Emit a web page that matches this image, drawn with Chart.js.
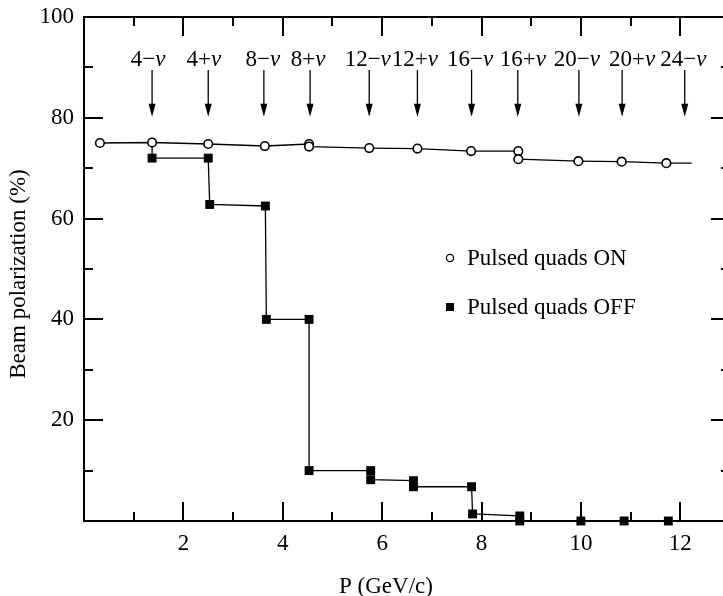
<!DOCTYPE html>
<html><head><meta charset="utf-8">
<script src="https://cdn.jsdelivr.net/npm/chart.js@4/dist/chart.umd.min.js"></script>
<style>html,body{margin:0;padding:0;overflow:hidden;background:#fff}canvas{display:block}</style>
</head><body>
<canvas id="c" width="723" height="596" style="width:723px;height:596px"></canvas>
<script>
// ---- data ----
const onP   = [0.32, 1.37, 2.50, 3.64, 4.53, 4.53, 5.74, 6.71, 7.79, 8.74, 8.74, 9.95, 10.82, 11.72, 12.23];
const onPol = [75.0, 75.1, 74.8, 74.4, 74.8, 74.3, 74.0, 73.9, 73.4, 73.4, 71.8, 71.4, 71.3, 71.0, 71.0];
const onMarker = [1,1,1,1,1,1,1,1,1,1,1,1,1,1,0];

const offP   = [1.37, 1.37, 2.50, 2.53, 3.65, 3.67, 4.53, 4.53, 5.77, 5.77, 6.63, 6.63, 7.80, 7.82, 8.77, 8.77, 10.00, 10.87, 11.76];
const offPol = [75.0, 72.0, 72.0, 62.8, 62.5, 40.0, 40.0, 10.0, 10.0, 8.2, 8.0, 6.8, 6.8, 1.4, 1.0, 0.0, 0.0, 0.0, 0.0];
const offMarker = [0,1,1,1,1,1,1,1,1,1,1,1,1,1,1,1,1,1,1];

const resonanceNames  = ['4', '4', '8', '8', '12', '12', '16', '16', '20', '20', '24'];
const resonanceSigns  = ['\u2212', '+', '\u2212', '+', '\u2212', '+', '\u2212', '+', '\u2212', '+', '\u2212'];
const resonanceP      = [1.37, 2.50, 3.62, 4.55, 5.74, 6.71, 7.80, 8.73, 9.96, 10.83, 12.09];
const resonanceLabelP = [1.29, 2.41, 3.60, 4.51, 5.71, 6.66, 7.77, 8.83, 9.92, 11.03, 12.06];

const xTickLabels = [2, 4, 6, 8, 10, 12];
const yTickLabels = [20, 40, 60, 80, 100];
const seriesNames = ['Pulsed quads ON', 'Pulsed quads OFF'];
const xTitle = 'P (GeV/c)';
const yTitle = 'Beam polarization (%)';
const xFrameEnd = 13;   // right-hand frame of the original plot (just outside the picture)

// ---- chart ----
const FONT = "'Liberation Serif', 'Times New Roman', serif";
const toXY = (xs, ys) => xs.map((x, i) => ({x: x, y: ys[i]}));

const decor = {
  id: 'decor',
  afterDraw(chart) {
    const ctx = chart.ctx, a = chart.chartArea;
    const xs = chart.scales.x, ys = chart.scales.y;
    const rightX = xs.getPixelForValue(xFrameEnd);
    ctx.save();
    ctx.strokeStyle = '#000';
    ctx.fillStyle = '#000';
    // top & right frame
    ctx.lineWidth = 2;
    ctx.beginPath();
    ctx.moveTo(a.left - 1, a.top); ctx.lineTo(rightX, a.top);
    ctx.moveTo(rightX, a.top); ctx.lineTo(rightX, a.bottom);
    ctx.stroke();
    // inward tick marks
    ctx.beginPath();
    for (let v = 1; v < xFrameEnd; v++) {
      const px = Math.round(xs.getPixelForValue(v));
      const len = (v % 2 === 0) ? 19 : 9;
      ctx.moveTo(px, a.bottom); ctx.lineTo(px, a.bottom - len);
      ctx.moveTo(px, a.top); ctx.lineTo(px, a.top + len);
    }
    ys.ticks.forEach(t => {
      const v = t.value;
      if (v <= ys.min || v >= ys.max) return;
      const py = Math.round(ys.getPixelForValue(v));
      const len = (Math.round(v) % 20 === 0) ? 19 : 9;
      ctx.moveTo(a.left, py); ctx.lineTo(a.left + len, py);
      ctx.moveTo(rightX, py); ctx.lineTo(rightX - len, py);
    });
    ctx.stroke();

    // resonance arrows and labels
    const yTop = ys.getPixelForValue(89.5), yTip = ys.getPixelForValue(80.2);
    const yLab = ys.getPixelForValue(91.4);
    ctx.lineWidth = 1.3;
    resonanceP.forEach((p, i) => {
      const px = xs.getPixelForValue(p);
      ctx.beginPath();
      ctx.moveTo(px, yTop); ctx.lineTo(px, yTip - 8);
      ctx.stroke();
      ctx.beginPath();
      ctx.moveTo(px, yTip); ctx.lineTo(px - 3.5, yTip - 13); ctx.lineTo(px + 3.5, yTip - 13);
      ctx.closePath(); ctx.fill();
      const a1 = resonanceNames[i] + resonanceSigns[i];
      ctx.font = '23px ' + FONT;
      const w1 = ctx.measureText(a1).width;
      ctx.font = 'italic 23px ' + FONT;
      const w2 = ctx.measureText('\u03bd').width;
      const lx = xs.getPixelForValue(resonanceLabelP[i]) - (w1 + w2) / 2;
      ctx.textBaseline = 'middle'; ctx.textAlign = 'left';
      ctx.font = '23px ' + FONT;
      ctx.fillText(a1, lx, yLab);
      ctx.font = 'italic 23px ' + FONT;
      ctx.fillText('\u03bd', lx + w1, yLab);
    });

    // legend
    ctx.font = '23px ' + FONT;
    ctx.textBaseline = 'middle'; ctx.textAlign = 'left';
    ctx.lineWidth = 1.3;
    ctx.beginPath(); ctx.arc(450, 258, 3.6, 0, Math.PI * 2);
    ctx.fillStyle = '#fff'; ctx.fill(); ctx.stroke();
    ctx.fillStyle = '#000';
    ctx.fillText(seriesNames[0], 467, 259);
    ctx.fillRect(446, 303, 8, 8);
    ctx.fillText(seriesNames[1], 467, 308);

    // axis titles
    ctx.textAlign = 'center';
    ctx.fillText(xTitle, 386, 587);
    ctx.save();
    ctx.translate(19, 274);
    ctx.rotate(-Math.PI / 2);
    ctx.fillText(yTitle, 0, 0);
    ctx.restore();
    ctx.restore();
  }
};

const zeroPad = s => { s.paddingTop = 0; s.paddingBottom = 0; s.paddingLeft = 0; s.paddingRight = 0; };

new Chart(document.getElementById('c'), {
  type: 'line',
  data: {
    datasets: [
      {
        label: seriesNames[0],
        data: toXY(onP, onPol),
        borderColor: '#000', borderWidth: 1.3,
        pointStyle: 'circle',
        pointRadius: onMarker.map(m => m ? 4.3 : 0),
        pointBorderWidth: 1.6, pointBorderColor: '#000', pointBackgroundColor: '#fff',
        tension: 0, clip: false, order: 0
      },
      {
        label: seriesNames[1],
        data: toXY(offP, offPol),
        borderColor: '#000', borderWidth: 1.3,
        pointStyle: 'rect',
        pointRadius: offMarker.map(m => m ? 6.3 : 0),
        pointBorderWidth: 0, pointBackgroundColor: '#000',
        tension: 0, clip: false, order: 1
      }
    ]
  },
  options: {
    responsive: false,
    animation: false,
    events: [],
    layout: { autoPadding: false, padding: { top: 17, right: 0, left: 0, bottom: 0 } },
    plugins: { legend: { display: false }, tooltip: { enabled: false } },
    scales: {
      x: {
        type: 'linear', min: 0, max: 12.86,
        grid: { display: true, drawOnChartArea: false, drawTicks: false },
        border: { display: true, width: 2, color: '#000' },
        ticks: {
          stepSize: 1, autoSkip: false, maxRotation: 0, padding: 9, includeBounds: false,
          color: '#000', font: { family: FONT, size: 23 },
          callback: v => xTickLabels.includes(v) ? String(v) : ''
        },
        afterFit: s => { s.height = 75; zeroPad(s); }
      },
      y: {
        type: 'linear', min: 0, max: 100,
        grid: { display: true, drawOnChartArea: false, drawTicks: false },
        border: { display: true, width: 2, color: '#000' },
        ticks: {
          stepSize: 10, autoSkip: false, padding: 10,
          color: '#000', font: { family: FONT, size: 23 },
          callback: v => yTickLabels.includes(v) ? String(v) : ''
        },
        afterFit: s => { s.width = 84; zeroPad(s); }
      }
    }
  },
  plugins: [decor]
});
</script>
</body></html>
